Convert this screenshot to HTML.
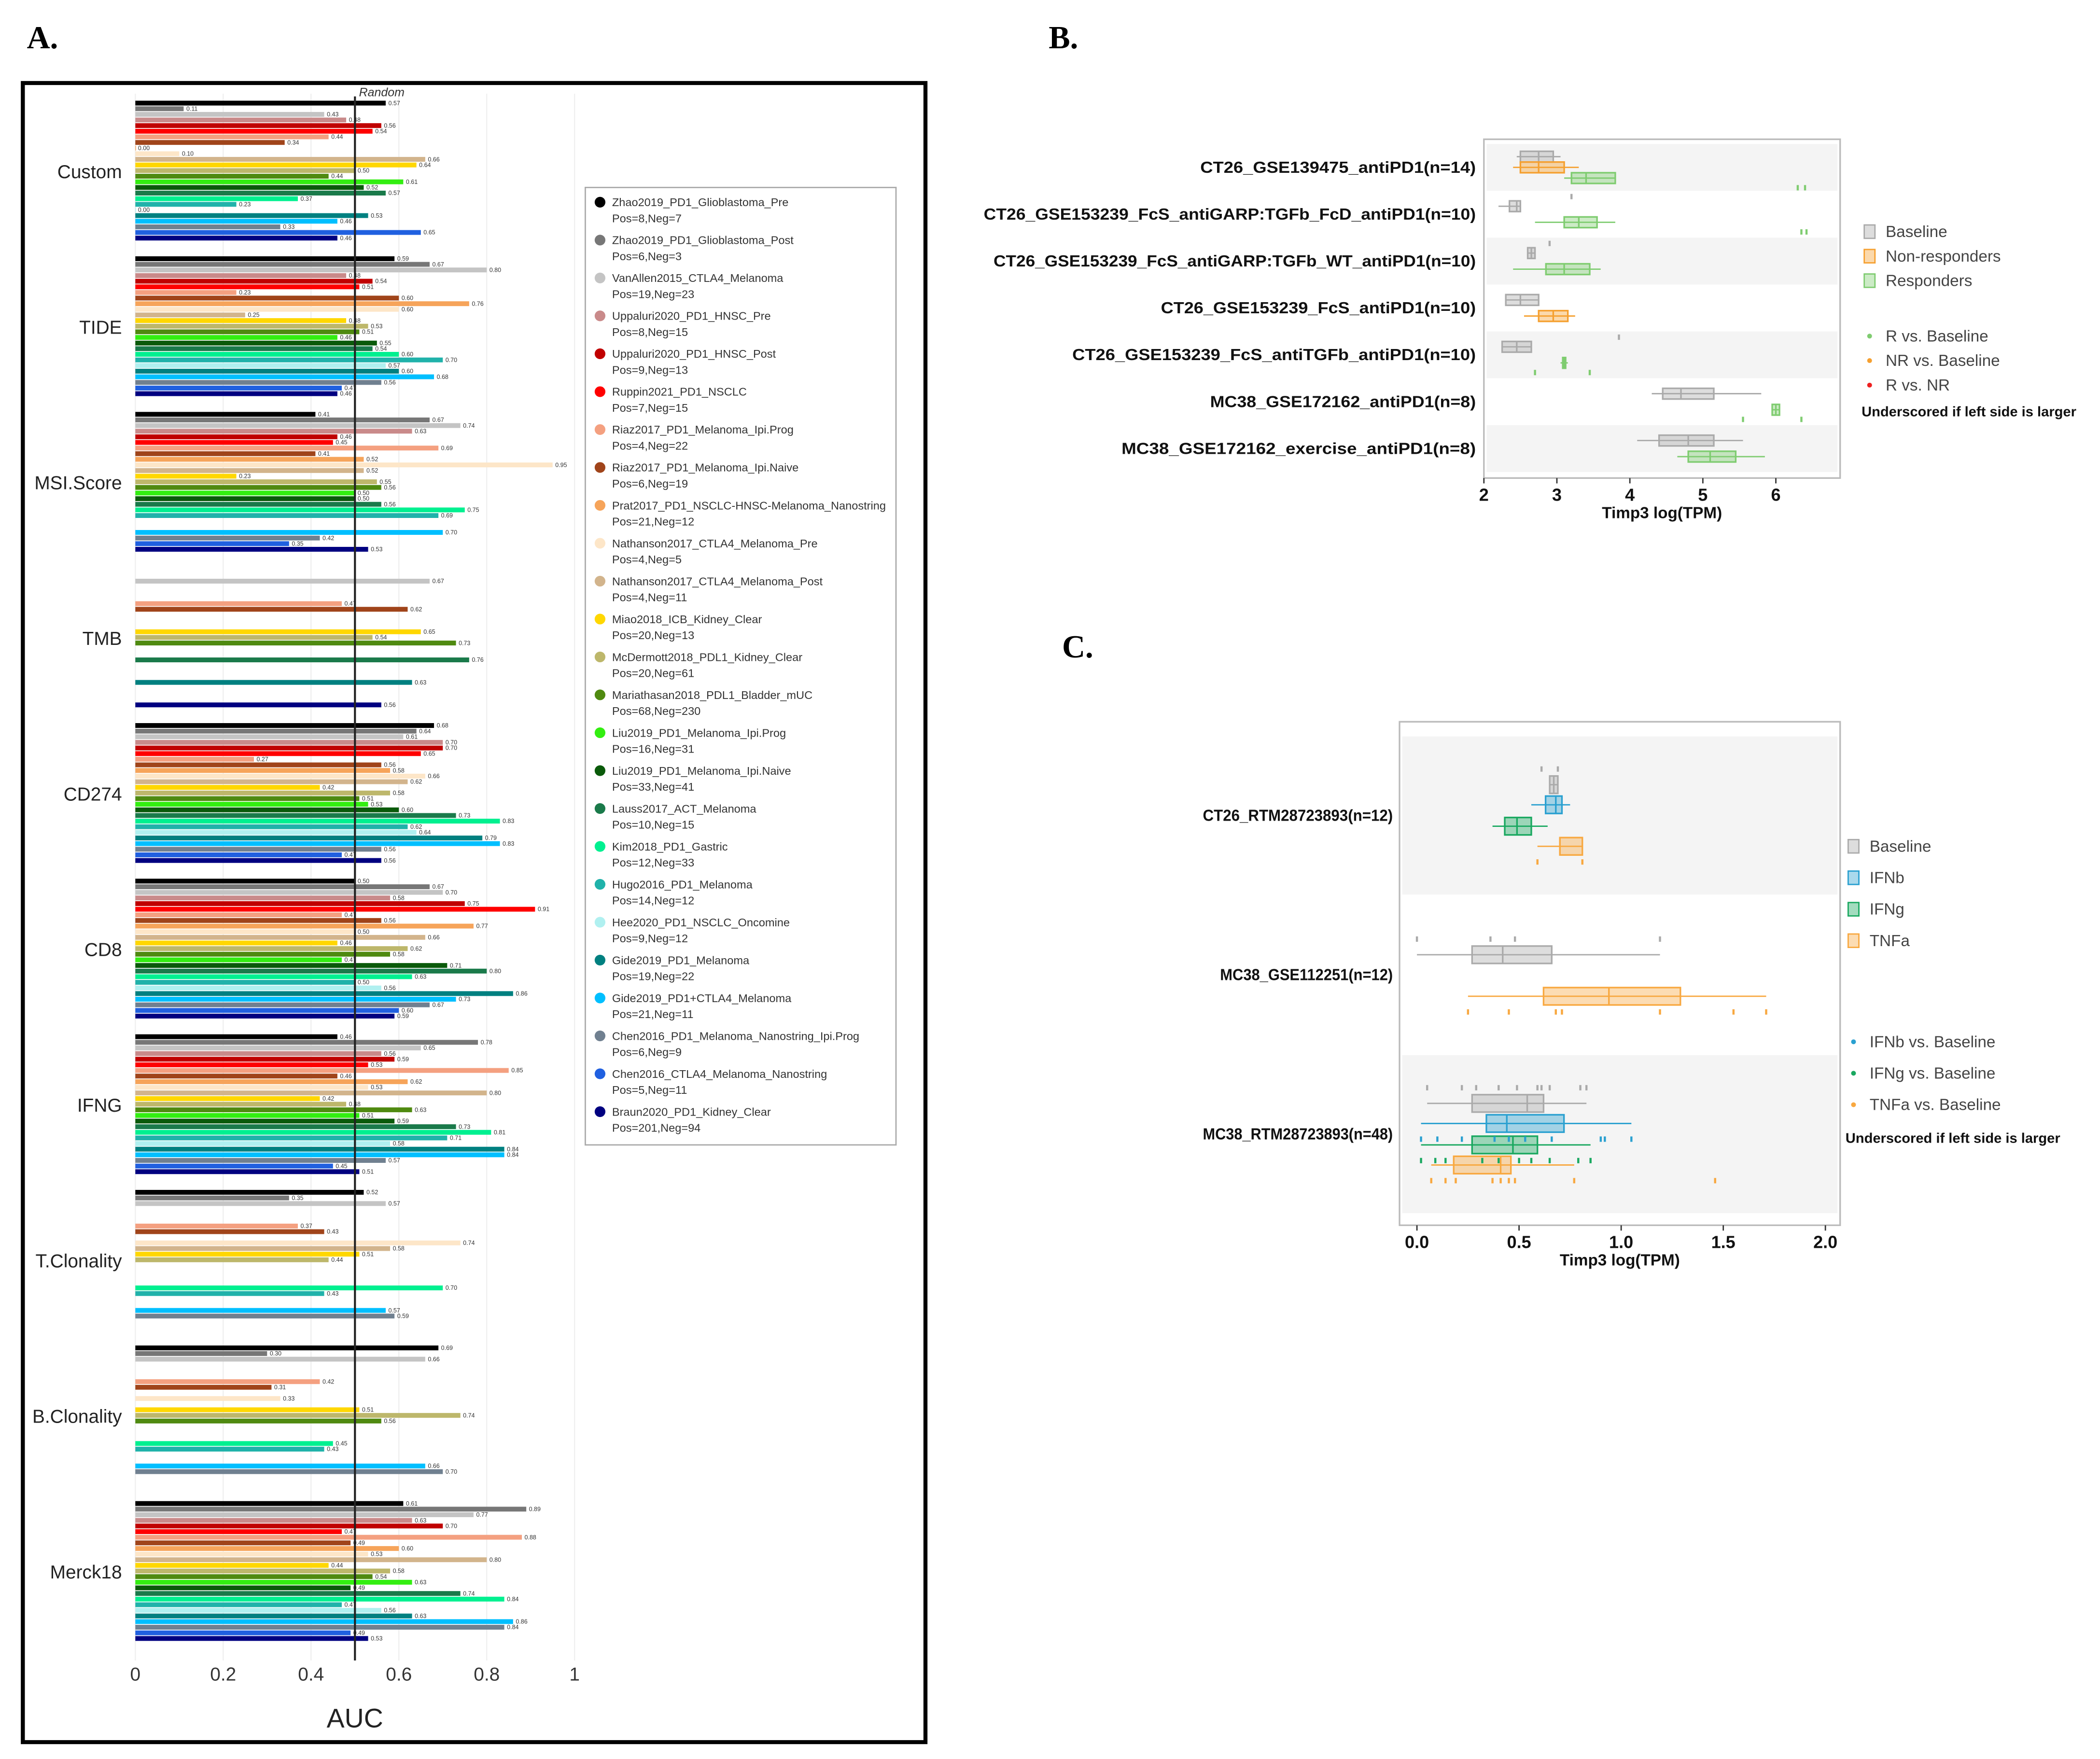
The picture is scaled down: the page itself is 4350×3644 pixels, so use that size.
<!DOCTYPE html>
<html><head><meta charset="utf-8"><style>
html,body{margin:0;padding:0;background:#fff}
svg{display:block}
text{font-family:"Liberation Sans",sans-serif}
</style></head><body>
<svg id="s" xmlns="http://www.w3.org/2000/svg" width="4350" height="3644" viewBox="0 0 1568 1313.6">
<rect x="0" y="0" width="1568" height="1313.6" fill="#fff"/>
<text x="20" y="36" style="font-family:'Liberation Serif',serif" font-weight="bold" font-size="24">A.</text>
<text x="783" y="36" style="font-family:'Liberation Serif',serif" font-weight="bold" font-size="24">B.</text>
<text x="793" y="491" style="font-family:'Liberation Serif',serif" font-weight="bold" font-size="24">C.</text>
<rect x="17" y="62" width="674" height="1239" fill="none" stroke="#000" stroke-width="3"/>
<g id="ga"></g><g id="gb"></g><g id="gc"></g>
</svg>
<script>
// ---------- Panel A data ----------
const featureNames=["Custom","TIDE","MSI.Score","TMB","CD274","CD8","IFNG","T.Clonality","B.Clonality","Merck18"];
const datasetNames=["Zhao2019_PD1_Glioblastoma_Pre","Zhao2019_PD1_Glioblastoma_Post","VanAllen2015_CTLA4_Melanoma","Uppaluri2020_PD1_HNSC_Pre","Uppaluri2020_PD1_HNSC_Post","Ruppin2021_PD1_NSCLC","Riaz2017_PD1_Melanoma_Ipi.Prog","Riaz2017_PD1_Melanoma_Ipi.Naive","Prat2017_PD1_NSCLC-HNSC-Melanoma_Nanostring","Nathanson2017_CTLA4_Melanoma_Pre","Nathanson2017_CTLA4_Melanoma_Post","Miao2018_ICB_Kidney_Clear","McDermott2018_PDL1_Kidney_Clear","Mariathasan2018_PDL1_Bladder_mUC","Liu2019_PD1_Melanoma_Ipi.Prog","Liu2019_PD1_Melanoma_Ipi.Naive","Lauss2017_ACT_Melanoma","Kim2018_PD1_Gastric","Hugo2016_PD1_Melanoma","Hee2020_PD1_NSCLC_Oncomine","Gide2019_PD1_Melanoma","Gide2019_PD1+CTLA4_Melanoma","Chen2016_PD1_Melanoma_Nanostring_Ipi.Prog","Chen2016_CTLA4_Melanoma_Nanostring","Braun2020_PD1_Kidney_Clear"];
const datasetCounts=["Pos=8,Neg=7","Pos=6,Neg=3","Pos=19,Neg=23","Pos=8,Neg=15","Pos=9,Neg=13","Pos=7,Neg=15","Pos=4,Neg=22","Pos=6,Neg=19","Pos=21,Neg=12","Pos=4,Neg=5","Pos=4,Neg=11","Pos=20,Neg=13","Pos=20,Neg=61","Pos=68,Neg=230","Pos=16,Neg=31","Pos=33,Neg=41","Pos=10,Neg=15","Pos=12,Neg=33","Pos=14,Neg=12","Pos=9,Neg=12","Pos=19,Neg=22","Pos=21,Neg=11","Pos=6,Neg=9","Pos=5,Neg=11","Pos=201,Neg=94"];
const datasetColors=["#000000","#777777","#c4c4c4","#c98a8a","#c00000","#ff0000","#f4a080","#a0441a","#f6a45a","#fde6c8","#d2b48c","#ffd700","#bdb76b","#4f8a10","#33ee11","#0a5a0a","#1a7a4a","#00f090","#20b2aa","#b0f0f0","#008080","#00bfff","#708090","#2060e0","#000080"];
const N=null;
const aucCustom=[0.57,0.11,0.43,0.48,0.56,0.54,0.44,0.34,0.00,0.10,0.66,0.64,0.50,0.44,0.61,0.52,0.57,0.37,0.23,0.00,0.53,0.46,0.33,0.65,0.46];
const aucTIDE=[0.59,0.67,0.80,0.48,0.54,0.51,0.23,0.60,0.76,0.60,0.25,0.48,0.53,0.51,0.46,0.55,0.54,0.60,0.70,0.57,0.60,0.68,0.56,0.47,0.46];
const aucMSI=[0.41,0.67,0.74,0.63,0.46,0.45,0.69,0.41,0.52,0.95,0.52,0.23,0.55,0.56,0.50,0.50,0.56,0.75,0.69,N,N,0.70,0.42,0.35,0.53];
const aucTMB=[N,N,0.67,N,N,N,0.47,0.62,N,N,N,0.65,0.54,0.73,N,N,0.76,N,N,N,0.63,N,N,N,0.56];
const aucCD274=[0.68,0.64,0.61,0.70,0.70,0.65,0.27,0.56,0.58,0.66,0.62,0.42,0.58,0.51,0.53,0.60,0.73,0.83,0.62,0.64,0.79,0.83,0.56,0.47,0.56];
const aucCD8=[0.50,0.67,0.70,0.58,0.75,0.91,0.47,0.56,0.77,0.50,0.66,0.46,0.62,0.58,0.47,0.71,0.80,0.63,0.50,0.56,0.86,0.73,0.67,0.60,0.59];
const aucIFNG=[0.46,0.78,0.65,0.56,0.59,0.53,0.85,0.46,0.62,0.53,0.80,0.42,0.48,0.63,0.51,0.59,0.73,0.81,0.71,0.58,0.84,0.84,0.57,0.45,0.51];
const aucTClon=[0.52,0.35,0.57,N,N,N,0.37,0.43,N,0.74,0.58,0.51,0.44,N,N,N,N,0.70,0.43,N,N,0.57,0.59,N,N];
const aucBClon=[0.69,0.30,0.66,N,N,N,0.42,0.31,N,0.33,N,0.51,0.74,0.56,N,N,N,0.45,0.43,N,N,0.66,0.70,N,N];
const aucMerck=[0.61,0.89,0.77,0.63,0.70,0.47,0.88,0.49,0.60,0.53,0.80,0.44,0.58,0.54,0.63,0.49,0.74,0.84,0.47,0.56,0.63,0.86,0.84,0.49,0.53];
const aucSeries=[aucCustom,aucTIDE,aucMSI,aucTMB,aucCD274,aucCD8,aucIFNG,aucTClon,aucBClon,aucMerck];
const aucTicks=[0,0.2,0.4,0.6,0.8,1];

// ---------- Panel B data ----------
const bRows=["CT26_GSE139475_antiPD1(n=14)","CT26_GSE153239_FcS_antiGARP:TGFb_FcD_antiPD1(n=10)","CT26_GSE153239_FcS_antiGARP:TGFb_WT_antiPD1(n=10)","CT26_GSE153239_FcS_antiPD1(n=10)","CT26_GSE153239_FcS_antiTGFb_antiPD1(n=10)","MC38_GSE172162_antiPD1(n=8)","MC38_GSE172162_exercise_antiPD1(n=8)"];
const bGroups=["Baseline","Non-responders","Responders"];
const bGroupColors=["#aaaaaa","#f5a030","#7fcc70"];
const bBoxes=[[0,0,2.45,2.5,2.75,2.95,3.05],[0,1,2.4,2.5,2.75,3.1,3.3],[0,2,3.1,3.2,3.4,3.8,3.8],
[1,0,2.2,2.35,2.45,2.5,2.5],[1,2,2.7,3.1,3.3,3.55,3.8],
[2,0,2.6,2.6,2.65,2.7,2.7],[2,2,2.4,2.85,3.1,3.45,3.6],
[3,0,2.3,2.3,2.5,2.75,2.75],[3,1,2.55,2.75,2.95,3.15,3.25],
[4,0,2.25,2.25,2.45,2.65,2.65],[4,2,3.05,3.08,3.1,3.12,3.15],
[5,0,4.3,4.45,4.7,5.15,5.8],[5,2,5.95,5.95,6.0,6.05,6.05],
[6,0,4.1,4.4,4.8,5.15,5.55],[6,2,4.65,4.8,5.1,5.45,5.85]];
const bPoints=[[0,2,6.3],[0,2,6.4],[1,2,6.35],[1,2,6.42],[1,0,3.2],[2,0,2.9],[4,0,3.85],[4,2,2.7],[4,2,3.45],[5,2,5.55],[5,2,6.35]];
const bTicks=[2,3,4,5,6];

// ---------- Panel C data ----------
const cRows=["CT26_RTM28723893(n=12)","MC38_GSE112251(n=12)","MC38_RTM28723893(n=48)"];
const cGroups=["Baseline","IFNb","IFNg","TNFa"];
const cGroupColors=["#aaaaaa","#2aa0d0","#1aa860","#f8a840"];
const cBoxes=[[0,0,0.65,0.65,0.67,0.69,0.69],[0,1,0.56,0.63,0.68,0.71,0.75],[0,2,0.37,0.43,0.49,0.56,0.64],[0,3,0.59,0.70,0.70,0.81,0.81],
[1,0,0.0,0.27,0.42,0.66,1.19],[1,3,0.25,0.62,0.94,1.29,1.71],
[2,0,0.05,0.27,0.54,0.62,0.83],[2,1,0.02,0.34,0.44,0.72,1.05],[2,2,0.02,0.27,0.47,0.59,0.85],[2,3,0.07,0.18,0.41,0.46,0.77]];
const cPoints=[[0,0,0.61],[0,0,0.69],[0,3,0.59],[0,3,0.81],[1,0,0.0],[1,0,0.36],[1,0,0.48],[1,0,1.19],[1,3,0.25],[1,3,0.45],[1,3,0.68],[1,3,0.71],[1,3,1.19],[1,3,1.55],[1,3,1.71],
[2,0,0.05],[2,0,0.22],[2,0,0.29],[2,0,0.40],[2,0,0.49],[2,0,0.59],[2,0,0.61],[2,0,0.65],[2,0,0.8],[2,0,0.83],
[2,1,0.02],[2,1,0.1],[2,1,0.22],[2,1,0.38],[2,1,0.45],[2,1,0.53],[2,1,0.66],[2,1,0.9],[2,1,0.92],[2,1,1.05],
[2,2,0.02],[2,2,0.09],[2,2,0.14],[2,2,0.32],[2,2,0.4],[2,2,0.5],[2,2,0.56],[2,2,0.65],[2,2,0.79],[2,2,0.85],
[2,3,0.07],[2,3,0.14],[2,3,0.19],[2,3,0.37],[2,3,0.41],[2,3,0.45],[2,3,0.48],[2,3,0.77],[2,3,1.46]];
const cTicks=[0,0.5,1.0,1.5,2.0];
const cTickLabels=["0.0","0.5","1.0","1.5","2.0"];

const NS="http://www.w3.org/2000/svg";
function mk(tag,attrs,parent,txt){const e=document.createElementNS(NS,tag);for(const k in attrs)e.setAttribute(k,attrs[k]);if(txt!==undefined)e.textContent=txt;parent.appendChild(e);return e;}

// ===== Panel A =====
(function(){
const g=document.getElementById('ga');
const xA=v=>101+v*328;
const groupY=i=>128+i*116.2;
const barY=(i,j)=>groupY(i)-51+j*4.2;
aucTicks.forEach(t=>{
  const gl=mk('line',{x1:xA(t),x2:xA(t),y1:70,y2:1240,stroke:'#eeeeee','stroke-width':0.8},g);
  
  
  const tl=mk('text',{x:xA(t),y:1255,'font-size':14,'text-anchor':'middle',fill:'#333'},g,String(t));
  
  
});
featureNames.forEach((f,i)=>{
  const lb=mk('text',{x:91,y:groupY(i)+5,'font-size':14,'text-anchor':'end',fill:'#222'},g,f);
  
  
  aucSeries[i].forEach((v,j)=>{
    if(v===null)return;
    const y=barY(i,j);
    const r=mk('rect',{x:xA(0),y:y-1.8,width:Math.max(xA(v)-xA(0),0.5),height:3.6,fill:datasetColors[j]},g);
    
    
    const vt=mk('text',{x:xA(v)+2,y:y+1.5,'font-size':4.5,fill:'#333'},g,v.toFixed(2));
    
    
  });
});
const rl=mk('line',{x1:xA(0.5),x2:xA(0.5),y1:72,y2:1240,stroke:'#222','stroke-width':1.5},g);


const rt=mk('text',{x:xA(0.5)+3,y:72,'font-size':9,'font-style':'italic',fill:'#333'},g,'Random');


const at=mk('text',{x:265,y:1290,'font-size':20,'text-anchor':'middle',fill:'#222'},g,'AUC');


const lg=mk('rect',{x:437,y:140,width:232,height:715,fill:'#fff',stroke:'#aaa','stroke-width':1},g);


datasetNames.forEach((n,j)=>{
  const y=151+j*28.3;
  const c=mk('circle',{cx:448,cy:y,r:4,fill:datasetColors[j]},g);
  
  
  const t=mk('text',{x:457,y:y+3,'font-size':8.5,fill:'#333'},g,n);
  
  
  const t2=mk('text',{x:457,y:y+15,'font-size':8.5,fill:'#333'},g,datasetCounts[j]);
  
  
});
})();

function drawBoxPanel(gid,cfg){
const g=document.getElementById(gid);
const {x0,x1,y0,y1,xs,rowY,rows,rowH,shade,groups,colors,boxes,points,ticks,tickLabels,offs,labX,legX,legY1,legY2,cmp,bh}=cfg;
const fr=mk('rect',{x:x0,y:y0,width:x1-x0,height:y1-y0,fill:'#fff',stroke:'#bbb','stroke-width':1.2},g);


rows.forEach((r,i)=>{
  if(shade.includes(i)){
    const s=mk('rect',{x:x0+2,y:rowY(i)-rowH/2,width:x1-x0-4,height:rowH,fill:'#f4f4f4'},g);
    
    
  }
  const t=mk('text',{x:labX,y:rowY(i)+4,'font-size':12,'font-weight':'bold','text-anchor':'end',fill:'#111',textLength:r.length*cfg.charW,lengthAdjust:'spacingAndGlyphs'},g,r);
  
  
});
boxes.forEach(b=>{
  const [ri,gi,wl,q1,md,q3,wh]=b;const y=rowY(ri)+offs(ri,gi);const c=colors[gi];
  const wk=mk('line',{x1:xs(wl),x2:xs(wh),y1:y,y2:y,stroke:c,'stroke-width':1},g);
  
  
  const bx=mk('rect',{x:xs(q1),y:y-bh/2,width:Math.max(xs(q3)-xs(q1),1),height:bh,fill:c,'fill-opacity':0.4,stroke:c,'stroke-width':1.2},g);
  
  
  const ml=mk('line',{x1:xs(md),x2:xs(md),y1:y-bh/2,y2:y+bh/2,stroke:c,'stroke-width':1.2},g);
  
  
});
points.forEach(p=>{
  const [ri,gi,v]=p;const y=rowY(ri)+offs(ri,gi)+(gi===0?-bh*0.9:bh*0.9);
  const pt=mk('rect',{x:xs(v)-0.8,y:y-2,width:1.6,height:4,fill:colors[gi]},g);
  
  
});
ticks.forEach((t,k)=>{
  const tk=mk('line',{x1:xs(t),x2:xs(t),y1:y1,y2:y1+4,stroke:'#333'},g);
  
  
  const tl=mk('text',{x:xs(t),y:y1+17,'font-size':13,'font-weight':'bold','text-anchor':'middle',fill:'#111'},g,tickLabels?tickLabels[k]:String(t));
  
  
});
const ttl=mk('text',{x:(x0+x1)/2,y:y1+30,'font-size':12,'font-weight':'bold','text-anchor':'middle',fill:'#111'},g,'Timp3 log(TPM)');


groups.forEach((n,i)=>{
  const y=legY1+i*cfg.legStep;
  const lm=mk('rect',{x:legX,y:y-5,width:8,height:10,fill:colors[i],'fill-opacity':0.4,stroke:colors[i]},g);
  
  
  const lt=mk('text',{x:legX+16,y:y+4,'font-size':12,fill:'#444'},g,n);
  
  
});
cmp.forEach((c,i)=>{
  const y=legY2+i*cfg.legStep;
  const d=mk('circle',{cx:legX+4,cy:y,r:1.8,fill:c[1]},g);
  
  
  const lt=mk('text',{x:legX+16,y:y+4,'font-size':12,fill:'#444'},g,c[0]);
  
  
});
const un=mk('text',{x:legX-2,y:legY2+cmp.length*cfg.legStep+5,'font-size':10.5,'font-weight':'bold',fill:'#111'},g,'Underscored if left side is larger');


}

drawBoxPanel('gb',{x0:1108,x1:1374,y0:104,y1:357,xs:v=>1108+(v-2)*54.5,rowY:i=>125+i*35,rows:bRows,rowH:35,shade:[0,2,4,6],
 groups:bGroups,colors:bGroupColors,boxes:bBoxes,points:bPoints,ticks:bTicks,bh:8,charW:7.35,
 offs:(r,g)=>{const present=bBoxes.filter(b=>b[0]===r).map(b=>b[1]);if(present.length===3)return [-8,0,8][g];return present.indexOf(g)===0?-6:6;},
 labX:1102,legX:1392,legY1:173,legY2:251,legStep:18.3,cmp:[["R vs. Baseline","#7fcc70"],["NR vs. Baseline","#f5a030"],["R vs. NR","#ee2020"]]});

drawBoxPanel('gc',{x0:1045,x1:1374,y0:539,y1:915,xs:v=>1058+v*152.5,rowY:i=>609+i*119,rows:cRows,rowH:118,shade:[0,2],
 groups:cGroups,colors:cGroupColors,boxes:cBoxes,points:cPoints,ticks:cTicks,tickLabels:cTickLabels,bh:13,charW:6.45,
 offs:(r,g)=>{const present=cBoxes.filter(b=>b[0]===r).map(b=>b[1]);if(present.length===4)return [-23,-8,8,23][g];return present.indexOf(g)===0?-15:16;},
 labX:1040,legX:1380,legY1:632,legY2:778,legStep:23.5,cmp:[["IFNb vs. Baseline","#2aa0d0"],["IFNg vs. Baseline","#1aa860"],["TNFa vs. Baseline","#f8a840"]]});
</script>
</body></html>
